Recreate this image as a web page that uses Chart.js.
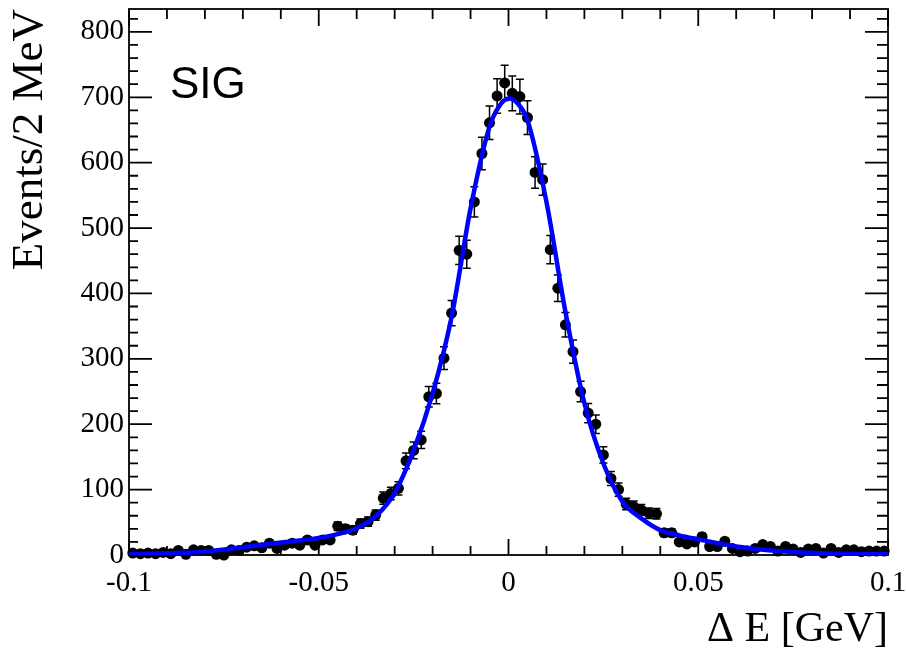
<!DOCTYPE html>
<html>
<head>
<meta charset="utf-8">
<script src="https://cdn.jsdelivr.net/npm/chart.js@4.4.1/dist/chart.umd.min.js"></script>
<style>
html, body { margin: 0; padding: 0; background: #fff; }
#wrap { width: 906px; height: 653px; }
</style>
</head>
<body>
<div id="wrap"><canvas id="c"></canvas></div>
<script>
// bin centres of the 2 MeV histogram [GeV]
var binCenters = [
-0.099,-0.097,-0.095,-0.093,-0.091,-0.089,-0.087,-0.085,-0.083,-0.081,
-0.079,-0.077,-0.075,-0.073,-0.071,-0.069,-0.067,-0.065,-0.063,-0.061,
-0.059,-0.057,-0.055,-0.053,-0.051,-0.049,-0.047,-0.045,-0.043,-0.041,
-0.039,-0.037,-0.035,-0.033,-0.031,-0.029,-0.027,-0.025,-0.023,-0.021,
-0.019,-0.017,-0.015,-0.013,-0.011,-0.009,-0.007,-0.005,-0.003,-0.001,
0.001,0.003,0.005,0.007,0.009,0.011,0.013,0.015,0.017,0.019,
0.021,0.023,0.025,0.027,0.029,0.031,0.033,0.035,0.037,0.039,
0.041,0.043,0.045,0.047,0.049,0.051,0.053,0.055,0.057,0.059,
0.061,0.063,0.065,0.067,0.069,0.071,0.073,0.075,0.077,0.079,
0.081,0.083,0.085,0.087,0.089,0.091,0.093,0.095,0.097,0.099];

var counts = [
3,2,3,2,4,2,7,1,8,7,
7,1,0,8,7,12,14,11,18,10,
15,18,15,23,15,23,23,44,40,38,
48,51,61,87,94,102,144,160,176,242,
247,301,370,466,460,540,614,661,702,722,
706,701,669,585,574,467,408,352,311,250,
217,200,153,117,100,78,74,69,64,63,
34,34,20,17,20,28,13,13,21,10,
5,6,10,16,13,6,13,9,4,9,
10,3,10,4,8,8,5,6,6,6];

// fitted curve
var fitX = [-0.1,-0.09,-0.08,-0.07,-0.06,-0.05,-0.045,-0.04,-0.035,-0.03,-0.025,-0.02,-0.015,-0.01,-0.005,-0.0025,
            0,0.0025,0.005,0.01,0.015,0.02,0.025,0.03,0.035,0.04,0.045,0.05,0.06,0.07,0.08,0.09,0.1];
var fitY = [1,2.5,5,12,19,26,32,41,59,95,160,247,364,530,655,686,
            698,690,665,540,372,232,140,82,56,38,30,24,13,6.5,3,1.5,1];

var xTicks = [-0.1,-0.05,0,0.05,0.1];
var xTickLabels = ['-0.1','-0.05','0','0.05','0.1'];
var yTicks = [0,100,200,300,400,500,600,700,800];
var yTickLabels = ['0','100','200','300','400','500','600','700','800'];

var serif = '"Liberation Serif", "Times New Roman", serif';

function pick(ticks, labels, v) {
  for (var i = 0; i < ticks.length; i++) if (Math.abs(ticks[i] - v) < 1e-9) return labels[i];
  return '';
}

// frame with inward ticks on all four sides, plus the SIG tag
var frame = {
  id: 'frame',
  beforeDatasetsDraw: function (chart) {
    var ctx = chart.ctx, a = chart.chartArea, xs = chart.scales.x, ys = chart.scales.y;
    ctx.save();
    ctx.strokeStyle = '#000';
    ctx.lineWidth = 1.8;
    ctx.strokeRect(a.left, a.top, a.right - a.left, a.bottom - a.top);
    ctx.beginPath();
    for (var k = 0; k <= 20; k++) {
      var px = xs.getPixelForValue(-0.1 + k * 0.01);
      var major = k % 5 === 0;
      ctx.moveTo(px, a.bottom); ctx.lineTo(px, a.bottom - (major ? 16 : 9));
      ctx.moveTo(px, a.top); ctx.lineTo(px, a.top + (major ? 17 : 10));
    }
    for (var v = 0; v <= 820; v += 20) {
      var py = ys.getPixelForValue(v);
      var maj = v % 100 === 0;
      ctx.moveTo(a.left, py); ctx.lineTo(a.left + (maj ? 23 : 9), py);
      ctx.moveTo(a.right, py); ctx.lineTo(a.right - (maj ? 23 : 11), py);
    }
    ctx.stroke();
    ctx.fillStyle = '#000';
    ctx.font = '44px "Liberation Sans", Arial, sans-serif';
    ctx.textBaseline = 'alphabetic';
    ctx.fillText('SIG', 170, 98);
    ctx.restore();
  }
};

// Poisson error bars on the histogram points
var errorBars = {
  id: 'errorBars',
  beforeDatasetDraw: function (chart, args) {
    if (args.index !== 0) return;
    var ctx = chart.ctx, xs = chart.scales.x, ys = chart.scales.y;
    ctx.save();
    ctx.strokeStyle = '#000';
    ctx.lineWidth = 1.5;
    ctx.beginPath();
    for (var i = 0; i < counts.length; i++) {
      var e = Math.sqrt(counts[i]);
      var px = xs.getPixelForValue(binCenters[i]);
      var y1 = ys.getPixelForValue(counts[i] + e);
      var y2 = ys.getPixelForValue(Math.max(counts[i] - e, 0));
      ctx.moveTo(px, y1); ctx.lineTo(px, y2);
      ctx.moveTo(px - 4, y1); ctx.lineTo(px + 4, y1);
      ctx.moveTo(px - 4, y2); ctx.lineTo(px + 4, y2);
    }
    ctx.stroke();
    ctx.restore();
  }
};

var points = binCenters.map(function (x, i) { return { x: x, y: counts[i] }; });
var fit = fitX.map(function (x, i) { return { x: x, y: fitY[i] }; });

new Chart(document.getElementById('c'), {
  type: 'scatter',
  data: {
    datasets: [
      {
        label: 'data',
        data: points,
        order: 2,
        clip: false,
        pointRadius: 5.5,
        pointBorderWidth: 0,
        pointBackgroundColor: '#000',
        pointBorderColor: '#000'
      },
      {
        label: 'fit',
        data: fit,
        order: 1,
        showLine: true,
        pointRadius: 0,
        borderColor: '#0000ff',
        borderWidth: 4.5,
        cubicInterpolationMode: 'monotone'
      }
    ]
  },
  options: {
    responsive: true,
    maintainAspectRatio: false,
    animation: false,
    layout: { padding: { top: 9, right: 18, left: 0, bottom: 0 } },
    plugins: { legend: { display: false }, tooltip: { enabled: false } },
    scales: {
      x: {
        type: 'linear', min: -0.1, max: 0.1,
        grid: { display: false, drawTicks: false },
        border: { display: false },
        afterBuildTicks: function (s) { s.ticks = xTicks.map(function (v) { return { value: v }; }); },
        afterFit: function (s) { s.height = 98; s.paddingLeft = 0; s.paddingRight = 0; },
        ticks: {
          autoSkip: false, maxRotation: 0, padding: 11, color: '#000',
          font: { family: serif, size: 29 },
          callback: function (v) { return pick(xTicks, xTickLabels, v); }
        },
        title: {
          display: true, text: '\u0394 E [GeV]', align: 'end', color: '#000',
          font: { family: serif, size: 42, lineHeight: 1 },
          padding: { top: 0, bottom: 2 }
        }
      },
      y: {
        type: 'linear', min: 0, max: 835,
        grid: { display: false, drawTicks: false },
        border: { display: false },
        afterBuildTicks: function (s) { s.ticks = yTicks.map(function (v) { return { value: v }; }); },
        afterFit: function (s) { s.width = 129; s.paddingTop = 0; s.paddingBottom = 0; },
        ticks: {
          autoSkip: false, padding: 5, color: '#000',
          font: { family: serif, size: 29 },
          callback: function (v) { return pick(yTicks, yTickLabels, v); }
        },
        title: {
          display: true, text: 'Events/2 MeV', align: 'end', color: '#000',
          font: { family: serif, size: 45, lineHeight: 1 },
          padding: { top: 8, bottom: 0 }
        }
      }
    }
  },
  plugins: [frame, errorBars]
});
</script>
</body>
</html>
